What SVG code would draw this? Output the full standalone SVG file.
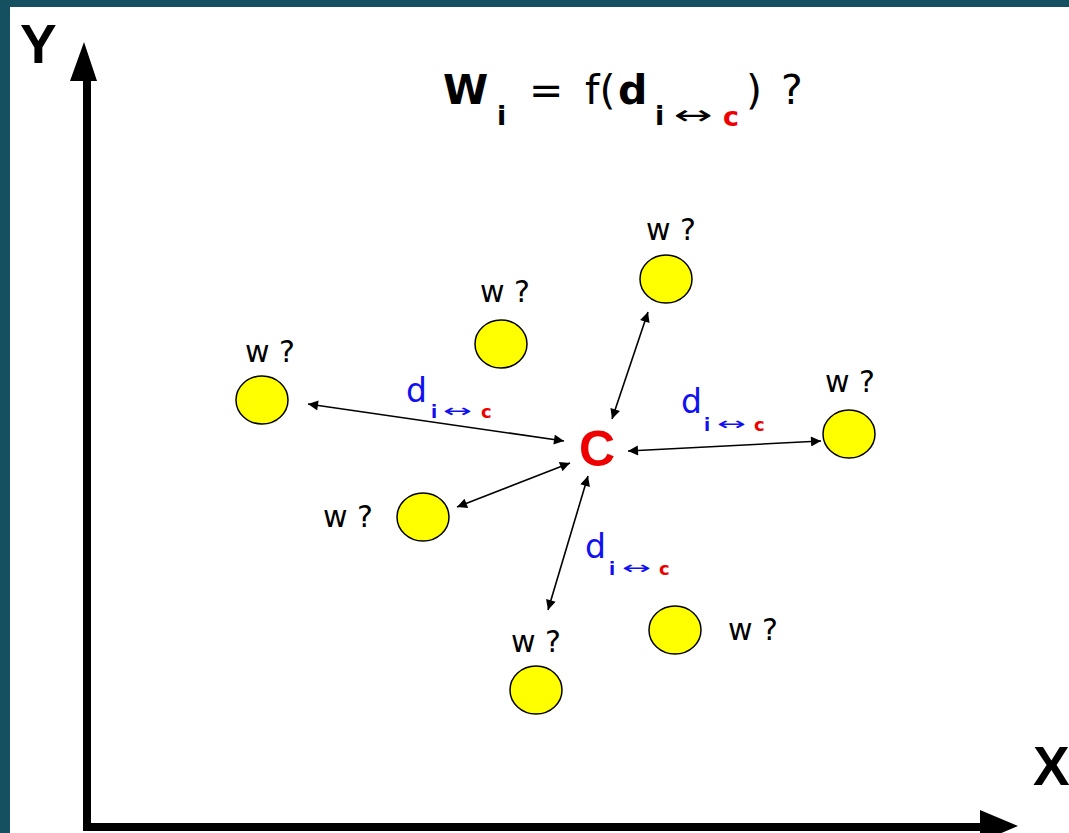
<svg xmlns="http://www.w3.org/2000/svg" width="1069" height="833" viewBox="0 0 1069 833">
<defs>
<style>
text{font-family:"DejaVu Sans","Liberation Sans",sans-serif;fill:#000}
.b{font-weight:bold}
.w{font-size:30px}
.node ellipse{fill:#ffff00;stroke:#000;stroke-width:1.5}
.d{fill:#1010f0;font-size:33px}
.si{fill:#1010f0;font-size:18px;font-weight:bold}
.sa{fill:#1010f0;font-size:18px}
.sc{fill:#ee0000;font-size:18px;font-weight:bold}
.conn line{stroke:#000;stroke-width:1.6;marker-start:url(#ah);marker-end:url(#ah)}
</style>
<marker id="ah" viewBox="0 0 10 10" refX="10" refY="5" markerWidth="12" markerHeight="10" markerUnits="userSpaceOnUse" orient="auto-start-reverse">
<path d="M0,0 L10,5 L0,10 z" fill="#000"/>
</marker>
</defs>
<rect width="1069" height="833" fill="#ffffff"/>
<rect x="0" y="0" width="1069" height="7" fill="#14505f"/>
<rect x="0" y="0" width="10" height="833" fill="#14505f"/>

<g id="axes">
<line x1="87" y1="78" x2="87" y2="827" stroke="#000" stroke-width="8"/>
<line x1="83" y1="827" x2="982" y2="827" stroke="#000" stroke-width="8"/>
<path d="M84,42 L97,81 L70,81 z" fill="#000"/>
<path d="M1018,826 L980,810 L980,842 z" fill="#000"/>
<text x="20" y="63" class="b" style="font-size:55px;font-family:'Liberation Sans',sans-serif">Y</text>
<text x="1033" y="785" class="b" style="font-size:55px;font-family:'Liberation Sans',sans-serif">X</text>
</g>

<g id="formula">
<text x="443" y="104" class="b" style="font-size:41px">W</text>
<text x="497" y="125" class="b" style="font-size:27px">i</text>
<text x="529" y="104" style="font-size:41px">=</text>
<text x="585" y="104" style="font-size:41px">f(</text>
<text x="618" y="104" class="b" style="font-size:41px">d</text>
<text x="655" y="125" class="b" style="font-size:27px">i</text>
<text x="674" y="124" style="font-size:27px" textLength="39" lengthAdjust="spacingAndGlyphs">↔</text>
<text x="723" y="126" class="b" style="font-size:27px;fill:#ee0000">c</text>
<text x="746" y="104" style="font-size:41px">)</text>
<text x="781" y="104" style="font-size:41px">?</text>
</g>

<g class="conn" id="connectors">
<line x1="308" y1="404" x2="564" y2="441"/>
<line x1="628" y1="451" x2="821" y2="441"/>
<line x1="648" y1="312" x2="612" y2="419"/>
<line x1="457" y1="507" x2="570" y2="463"/>
<line x1="588" y1="476" x2="548" y2="610"/>
</g>

<g id="center">
<text x="597" y="466" class="b" text-anchor="middle" style="font-size:50px;fill:#ee0000;font-family:'Liberation Sans',sans-serif">C</text>
</g>

<g id="labels">
<text x="406" y="402" class="d">d</text>
<text x="431" y="418" class="si">i</text>
<text x="443" y="417" class="sa" textLength="29" lengthAdjust="spacingAndGlyphs">↔</text>
<text x="481" y="418" class="sc">c</text>

<text x="681" y="413" class="d">d</text>
<text x="704" y="431" class="si">i</text>
<text x="717" y="430" class="sa" textLength="29" lengthAdjust="spacingAndGlyphs">↔</text>
<text x="754" y="431" class="sc">c</text>

<text x="585" y="558" class="d">d</text>
<text x="609" y="575" class="si">i</text>
<text x="622" y="574" class="sa" textLength="29" lengthAdjust="spacingAndGlyphs">↔</text>
<text x="659" y="575" class="sc">c</text>
</g>

<g id="n1" class="node"><ellipse cx="666" cy="279" rx="26" ry="24"/><text x="646" y="240" class="w">w ?</text></g>
<g id="n2" class="node"><ellipse cx="501" cy="344" rx="26" ry="24"/><text x="480" y="302" class="w">w ?</text></g>
<g id="n3" class="node"><ellipse cx="262" cy="400" rx="26" ry="24"/><text x="245" y="362" class="w">w ?</text></g>
<g id="n4" class="node"><ellipse cx="849" cy="434" rx="26" ry="24"/><text x="825" y="392" class="w">w ?</text></g>
<g id="n5" class="node"><ellipse cx="423" cy="517" rx="26" ry="24"/><text x="323" y="527" class="w">w ?</text></g>
<g id="n6" class="node"><ellipse cx="536" cy="690" rx="26" ry="24"/><text x="511" y="652" class="w">w ?</text></g>
<g id="n7" class="node"><ellipse cx="675" cy="630" rx="26" ry="24"/><text x="728" y="640" class="w">w ?</text></g>
</svg>
